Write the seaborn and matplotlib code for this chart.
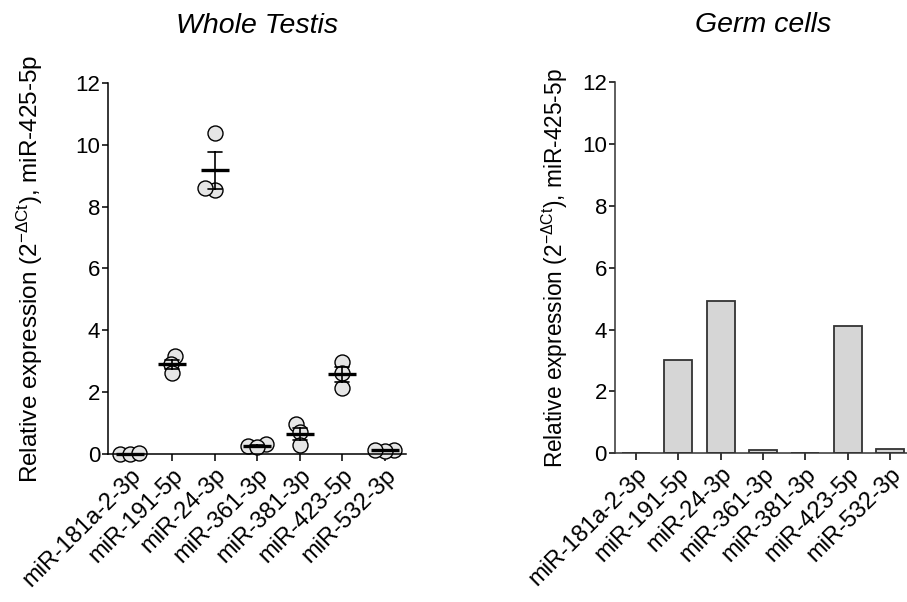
import matplotlib
matplotlib.use("Agg")
import matplotlib.pyplot as plt
import seaborn as sns
import pandas as pd

# ---- data ----
mirnas = ["miR-181a-2-3p", "miR-191-5p", "miR-24-3p", "miR-361-3p",
          "miR-381-3p", "miR-423-5p", "miR-532-3p"]
testis_rep1 = [0.02, 3.17, 10.37, 0.32, 0.98, 2.99, 0.15]
testis_rep2 = [0.01, 2.91, 8.55, 0.27, 0.71, 2.62, 0.12]
testis_rep3 = [0.03, 2.62, 8.61, 0.22, 0.30, 2.15, 0.14]
germ_values = [0.0, 3.01, 4.91, 0.11, 0.0, 4.13, 0.15]
yticks = [0, 2, 4, 6, 8, 10, 12]
titles = ["Whole Testis", "Germ cells"]
ylabel = r"Relative expression (2$^{\mathregular{-\Delta Ct}}$), miR-425-5p"

testis_df = pd.DataFrame({
    "mirna": mirnas * 3,
    "value": testis_rep1 + testis_rep2 + testis_rep3,
})
germ_df = pd.DataFrame({"mirna": mirnas, "value": germ_values})

sns.set_theme(style="ticks")
plt.rcParams["font.family"] = ["Liberation Sans", "DejaVu Sans"]
plt.rcParams["mathtext.fontset"] = "custom"
plt.rcParams["mathtext.rm"] = "Liberation Sans"
plt.rcParams["mathtext.it"] = "Liberation Sans:italic"
for key in ["text.color", "axes.labelcolor", "xtick.color", "ytick.color",
            "axes.edgecolor"]:
    plt.rcParams[key] = "black"
plt.rcParams["axes.linewidth"] = 1.1
plt.rcParams["xtick.major.width"] = 1.1
plt.rcParams["ytick.major.width"] = 1.1
plt.rcParams["xtick.major.size"] = 5.0
plt.rcParams["ytick.major.size"] = 4.3
plt.rcParams["xtick.major.pad"] = 2
plt.rcParams["ytick.major.pad"] = 1.5

fig = plt.figure(figsize=(9.07, 6.02), dpi=100)
ax1 = fig.add_axes([108.3 / 907, 1 - 454.3 / 602, 297.5 / 907, 371.6 / 602])
ax2 = fig.add_axes([615 / 907, 1 - 453.3 / 602, 296 / 907, 371.0 / 602])

# ---- left: scatter with mean + SEM ----
# lay the swarm out with a compact footprint so the dots overlap a little,
# as in the reference, then show them at full size
sns.swarmplot(data=testis_df, x="mirna", y="value", order=mirnas, ax=ax1,
              color="#e6e6e6", edgecolor="black", linewidth=1.0, size=5.5,
              zorder=2)
ax1.set_xlim(-0.5, 6.5)
ax1.set_ylim(0, 12)
fig.canvas.draw()
for coll in ax1.collections:
    if "draw" in coll.__dict__:
        del coll.draw
    coll.set_sizes([10.8 ** 2])
    coll.set_clip_on(False)

sns.pointplot(data=testis_df, x="mirna", y="value", order=mirnas, ax=ax1,
              estimator="mean", errorbar="se", capsize=0.33,
              color="black", marker="_", markersize=20, markeredgewidth=2.4,
              linestyle="none", err_kws={"linewidth": 1.2}, zorder=3)
for ln in ax1.lines:
    ln.set_clip_on(False)

# ---- right: bars ----
sns.barplot(data=germ_df, x="mirna", y="value", order=mirnas, ax=ax2,
            color="#d6d6d6", saturation=1, edgecolor="#333333",
            linewidth=1.3, width=0.66)

for ax, title, lsize, lpad in [(ax1, titles[0], 17.5, 22), (ax2, titles[1], 16.3, 9)]:
    ax.set_xlim(-0.5, 6.5)
    ax.set_ylim(0, 12)
    ax.set_yticks(yticks)
    ax.set_yticklabels([str(t) for t in yticks], fontsize=16)
    ax.set_xticks(range(len(mirnas)))
    ax.set_xticklabels(mirnas, rotation=45, ha="right",
                       rotation_mode="anchor", fontsize=17)
    ax.set_xlabel("")
    ax.set_ylabel(ylabel, fontsize=lsize, labelpad=lpad)
    ax.set_title(title, fontsize=20.5, style="italic", pad=36)
    sns.despine(ax=ax)

for sp in ["left", "bottom"]:
    ax2.spines[sp].set_color("#333333")

fig.savefig("out.png", dpi=100)
